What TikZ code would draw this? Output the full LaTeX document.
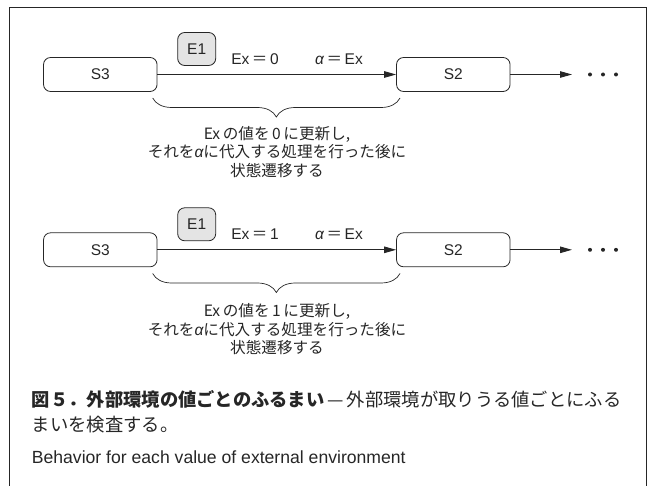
\documentclass[tikz,border=0pt]{standalone}
\usepackage{fontspec}
\setmainfont{Liberation Sans}
\newfontfamily\cjk{Noto Sans CJK JP}
\usetikzlibrary{arrows.meta,decorations.pathreplacing}
\definecolor{ink}{HTML}{262626}
\definecolor{evfill}{HTML}{E4E4E4}
\begin{document}
\begin{tikzpicture}[x=1pt,y=-1pt,
  state/.style={draw=ink, rounded corners=7pt, minimum width=113.5pt, minimum height=34pt, line width=0.8pt, font=\fontsize{15.5}{18}\selectfont, inner sep=0pt, text=ink},
  evt/.style={draw=ink, fill=evfill, rounded corners=7pt, minimum width=38pt, minimum height=33pt, line width=0.8pt, font=\fontsize{15.5}{18}\selectfont, inner sep=0pt, text=ink},
  lbl/.style={font=\fontsize{15.5}{18}\selectfont, inner sep=0pt, text=ink, anchor=base},
  arr/.style={-{Triangle[length=12pt,width=6.5pt]}, line width=0.9pt, draw=ink},
  brc/.style={decorate, decoration={brace, mirror, amplitude=19pt}, line width=0.7pt, draw=ink},
  note/.style={font=\cjk\fontsize{15.6}{18.5}\selectfont, align=center, inner sep=0pt, text=ink},
  dotmark/.style={circle, fill=ink, inner sep=0pt, minimum size=4pt},
  captxt/.style={inner sep=0pt, anchor=base west, text=ink}
]
\useasboundingbox (0,0) rectangle (653,486);
\draw[line width=0.8pt, ink] (9.5,486) -- (9.5,7.5) -- (646,7.5) -- (646,486);

\foreach \i/\dy/\by/\ty/\v in {1/0/0/0/0, 2/175.3/175.5/177.5/1} {
  \node[state] (s3\i) at (100.3,74.5+\dy) {S3};
  \node[state] (s2\i) at (453.3,74.5+\dy) {S2};
  \node[evt] (e\i) at (196.7,49+\dy) {E1};
  \draw[arr] (s3\i) -- (s2\i);
  \coordinate (out\i) at (572,74.5+\dy);
  \draw[arr] (s2\i) -- (out\i);
  \node[dotmark] (da\i) at (590,74.5+\dy) {};
  \node[dotmark] (db\i) at (603,74.5+\dy) {};
  \node[dotmark] (dc\i) at (616,74.5+\dy) {};
  \node[lbl] (ex\i) at (255,64.5+\dy) {Ex\,{\cjk ＝}\,\v};
  \node[lbl] (al\i) at (339,64.5+\dy) {{\itshape α}\,{\cjk ＝}\,Ex};
  \coordinate (bl\i) at (152.7,98+\by);
  \coordinate (br\i) at (400,98+\by);
  \draw[brc] (bl\i) -- (br\i);
  \node[note] (n\i) at (277,152+\ty) {Ex\,の値を\,\v\,に更新し,\\それを{\rmfamily\itshape α}に代入する処理を行った後に\\状態遷移する};
}

\node[captxt, font=\cjk\fontsize{18.3}{20}\selectfont] (c1) at (31.7,406.8) {{\bfseries 図５．外部環境の値ごとのふるまい}\,—\,外部環境が取りうる値ごとにふる};
\node[captxt, font=\cjk\fontsize{18.3}{20}\selectfont] (c2) at (31.7,431.8) {まいを検査する。};
\node[captxt, font=\fontsize{17.6}{20}\selectfont] (c3) at (31.7,463) {Behavior for each value of external environment};
\end{tikzpicture}
\end{document}
